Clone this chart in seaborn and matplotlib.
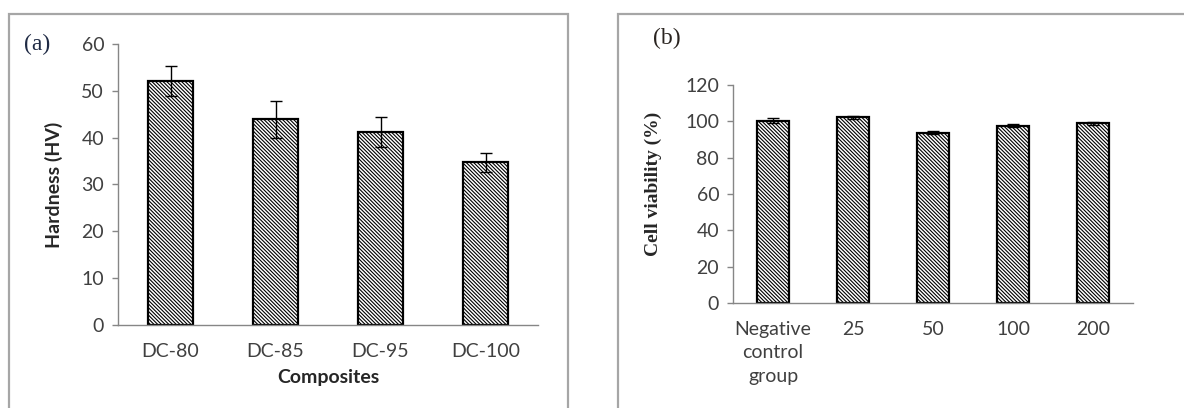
import numpy as np
import pandas as pd
import seaborn as sns
import matplotlib.pyplot as plt
from matplotlib.patches import Rectangle

# panel (a) data
composites = ['DC-80', 'DC-85', 'DC-95', 'DC-100']
hardness = [52.0, 43.9, 41.3, 34.7]
hardness_err = [3.2, 4.0, 3.2, 2.0]

# panel (b) data
groups = ['Negative\ncontrol\ngroup', '25', '50', '100', '200']
viability = [100.3, 102.3, 93.6, 97.6, 98.8]
viability_err = [1.5, 0.8, 0.8, 0.8, 1.0]

sns.set_theme(style='white')
plt.rcParams['font.family'] = ['Lato', 'DejaVu Sans']
plt.rcParams['hatch.linewidth'] = 0.8
plt.rcParams['hatch.color'] = 'black'

fig = plt.figure(figsize=(11.84, 4.08), dpi=100)

# gray panel frames
fig.patches.append(Rectangle((9 / 1184, -0.1), (568 - 9) / 1184, 1.1 - 14 / 408,
                             transform=fig.transFigure, fill=False,
                             edgecolor='#a6a6a6', lw=1.6))
fig.patches.append(Rectangle((618 / 1184, -0.1), 0.6, 1.1 - 14 / 408,
                             transform=fig.transFigure, fill=False,
                             edgecolor='#a6a6a6', lw=1.6))

ax_a = fig.add_axes([0.0997, 0.2034, 0.3547, 0.6888])
ax_b = fig.add_axes([0.6191, 0.2574, 0.3378, 0.5343])

df_a = pd.DataFrame({'composite': composites, 'hardness': hardness})
df_b = pd.DataFrame({'group': groups, 'viability': viability})

hatch = '\\' * 9
sns.barplot(data=df_a, x='composite', y='hardness', ax=ax_a, color='white',
            edgecolor='black', linewidth=1.6, width=0.42, hatch=hatch,
            errorbar=None)
sns.barplot(data=df_b, x='group', y='viability', ax=ax_b, color='white',
            edgecolor='black', linewidth=1.6, width=0.40, hatch=hatch,
            errorbar=None)

ax_a.errorbar(np.arange(len(hardness)), hardness, yerr=hardness_err, fmt='none',
              ecolor='black', elinewidth=1, capsize=4, capthick=1)
ax_b.errorbar(np.arange(len(viability)), viability, yerr=viability_err, fmt='none',
              ecolor='black', elinewidth=1, capsize=4, capthick=1)

tick_col = '#404040'
for ax, n, ymax, step in [(ax_a, 4, 60, 10), (ax_b, 5, 120, 20)]:
    ax.set_ylim(0, ymax)
    ax.set_yticks(np.arange(0, ymax + 1, step))
    ax.set_xlim(-0.5, n - 0.5)
    labels = [t.get_text() for t in ax.get_xticklabels()]
    ax.set_xticks(np.arange(n), labels, minor=True)
    ax.set_xticks(np.arange(-0.5, n, 1.0), [''] * (n + 1))
    ax.tick_params(axis='x', which='minor', length=0, pad=13,
                   labelsize=14, labelcolor=tick_col)
    ax.tick_params(axis='x', which='major', length=4, color='#868686', width=1)
    ax.tick_params(axis='y', length=4, color='#868686', width=1, left=True,
                   labelsize=14, labelcolor=tick_col, pad=6)
    for lbl in ax.get_xticklabels(minor=True):
        lbl.set_linespacing(1.45)
    for side in ['top', 'right']:
        ax.spines[side].set_visible(False)
    for side in ['left', 'bottom']:
        ax.spines[side].set_color('#868686')
        ax.spines[side].set_linewidth(1)

ax_a.set_xlabel('Composites', fontweight='bold', fontsize=14)
ax_a.set_ylabel('Hardness (HV)', fontweight='bold', fontsize=14)
ax_a.xaxis.set_label_coords(0.5, -0.158)
ax_a.yaxis.set_label_coords(-0.13, 0.5)
ax_b.set_xlabel('')
ax_b.set_ylabel('Cell viability (%)', fontweight='bold', fontsize=14,
                family='Liberation Serif')
ax_b.yaxis.set_label_coords(-0.178, 0.548)

fig.text(37 / 1184, 1 - 44 / 408, '(a)', family='Liberation Serif', fontsize=17,
         color='#1f2a44', ha='center', va='center')
fig.text(667 / 1184, 1 - 38 / 408, '(b)', family='Liberation Serif', fontsize=17,
         color='#2a2420', ha='center', va='center')

fig.savefig('out.png', dpi=100)
